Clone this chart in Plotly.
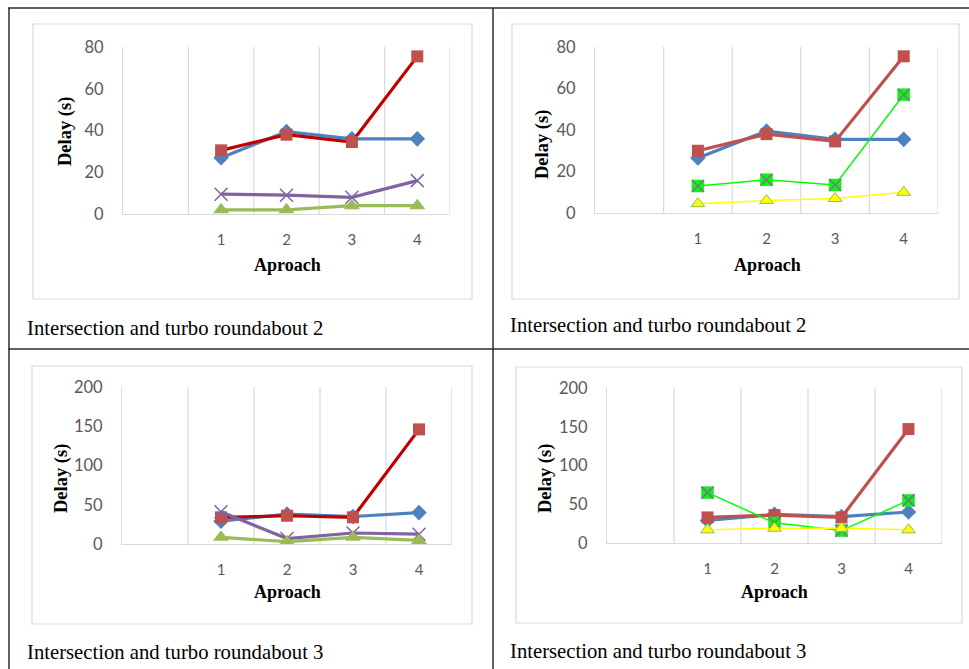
import plotly.graph_objects as go

W, H = 969, 669

approach = ["1", "2", "3", "4"]

# Chart 1 (top-left) - Intersection and turbo roundabout 2
c1_blue = [27, 39.5, 36, 36]
c1_red = [30.5, 38, 34.5, 75.5]
c1_purple = [9.5, 9, 8, 16]
c1_green = [2, 2, 4, 4]

# Chart 2 (top-right)
c2_blue = [26.5, 39.5, 35.5, 35.5]
c2_red = [30, 38, 34.5, 75.5]
c2_lime = [13, 16, 13.5, 57]
c2_yellow = [4.5, 6, 7, 10]

# Chart 3 (bottom-left) - Intersection and turbo roundabout 3
c3_blue = [29, 38, 35, 40]
c3_red = [34, 36, 34, 146]
c3_purple = [41, 7, 14, 12.5]
c3_green = [8.5, 3, 8.5, 4.5]

# Chart 4 (bottom-right)
c4_blue = [29, 37, 34, 40]
c4_red = [33, 36, 33, 147]
c4_lime = [65, 26, 16, 55]
c4_yellow = [17, 19, 19, 17]

captions = ["Intersection and turbo roundabout 2", "Intersection and turbo roundabout 2",
            "Intersection and turbo roundabout 3", "Intersection and turbo roundabout 3"]

# category slots: slot 1 is an empty category, approaches occupy slots 2..5
n_slots = len(approach) + 1
xs = [i + 2 for i in range(len(approach))]


def px(x):
    return x / W


def py(y):
    return 1 - y / H


# plot-area pixel boxes (left, right, top, bottom)
boxes = [(123, 450, 47, 214), (595, 938, 47, 213), (122, 452, 387, 544), (607, 942, 388, 543)]
yranges = [[0, 80], [0, 80], [0, 200], [0, 200]]
ydticks = [20, 20, 50, 50]
frames = [(33, 24, 472, 299), (512, 24, 959, 299), (32, 366, 472, 624), (516, 367, 962, 623)]
ytitle_pos = [(65, 132), (542, 145), (61, 479), (545, 479)]
xtitle_pos = [(287, 265), (767, 265), (287, 592), (774, 592)]
caption_pos = [(25, 328), (508, 325), (25, 652), (508, 651)]

BLUE = "#4F81BD"
RED_M = "#C0504D"
RED_DARK = "#C00000"
PURPLE = "#8064A2"
GREEN = "#9BBB59"
LIME = "#00FF00"
YELLOW = "#FFFF00"
GRID = "#D9D9D9"
TICKC = "#595959"

fig = go.Figure()


def add(n, y, color, symbol, msize, lw, mcolor=None, mline=None, mode="lines+markers"):
    ax = "" if n == 1 else str(n)
    marker = dict(symbol=symbol, size=msize, color=mcolor or color)
    if mline:
        marker["line"] = mline
    fig.add_trace(go.Scatter(x=xs, y=y, mode=mode, xaxis="x" + ax, yaxis="y" + ax,
                             line=dict(color=color, width=lw), marker=marker,
                             showlegend=False, hoverinfo="skip"))


# Chart 1
add(1, c1_blue, BLUE, "diamond", 12, 3.2)
add(1, c1_red, RED_DARK, "square", 12, 3.2, mcolor=RED_M)
add(1, c1_purple, PURPLE, "x-thin", 13, 3.2, mline=dict(color=PURPLE, width=1.5))
add(1, c1_green, GREEN, "triangle-up", 14, 3.2)
# Chart 2
add(2, c2_blue, BLUE, "diamond", 12, 3.2)
add(2, c2_red, RED_M, "square", 12, 3.2)
add(2, c2_lime, LIME, "square", 12, 1.5, mline=dict(color="#33cc33", width=0.5))
add(2, c2_lime, "#7F6F9F", "x-thin", 12, 0, mline=dict(color="#7F6F9F", width=1.5), mode="markers")
add(2, c2_yellow, YELLOW, "triangle-up", 12, 1.5, mline=dict(color=GREEN, width=1))
# Chart 3
add(3, c3_blue, BLUE, "diamond", 12, 3.2)
add(3, c3_red, RED_DARK, "square", 12, 3.2, mcolor=RED_M)
add(3, c3_purple, PURPLE, "x-thin", 13, 3.2, mline=dict(color=PURPLE, width=1.5))
add(3, c3_green, GREEN, "triangle-up", 14, 3.2)
# Chart 4
add(4, c4_blue, BLUE, "diamond", 12, 3.2)
add(4, c4_red, RED_M, "square", 12, 3.2)
add(4, c4_lime, LIME, "square", 12, 1.5, mline=dict(color="#33cc33", width=0.5))
add(4, c4_lime, "#7F6F9F", "x-thin", 12, 0, mline=dict(color="#7F6F9F", width=1.5), mode="markers")
add(4, c4_yellow, YELLOW, "triangle-up", 12, 1.5, mline=dict(color=GREEN, width=1))

layout = dict(width=W, height=H, margin=dict(l=0, r=0, t=0, b=0, pad=0, autoexpand=False),
              paper_bgcolor="white", plot_bgcolor="rgba(0,0,0,0)", showlegend=False)
shapes = []
annotations = []

for i in range(4):
    n = i + 1
    ax = "" if n == 1 else str(n)
    l, r, t, b = boxes[i]
    layout["xaxis" + ax] = dict(
        domain=[px(l), px(r)], range=[0.5, n_slots + 0.5], anchor="y" + ax, automargin=False,
        tickmode="array", tickvals=xs, ticktext=approach, showgrid=False, zeroline=False,
        showline=True, linecolor=GRID, linewidth=1.2,
        ticks="outside", ticklen=12, tickcolor="rgba(0,0,0,0)",
        tickfont=dict(family="Lato, Carlito, sans-serif", size=15, color=TICKC), fixedrange=True)
    layout["yaxis" + ax] = dict(
        domain=[py(b), py(t)], range=yranges[i], anchor="x" + ax, automargin=False,
        dtick=ydticks[i], tick0=0, showgrid=False, zeroline=False,
        showline=True, linecolor=GRID, linewidth=1.2,
        ticks="outside", ticklen=15, tickcolor="rgba(0,0,0,0)",
        tickfont=dict(family="Lato, Carlito, sans-serif", size=16.5, color=TICKC), fixedrange=True)
    # vertical category-boundary gridlines (including right edge)
    for g in range(1, n_slots + 1):
        shapes.append(dict(type="line", xref="x" + ax, yref="y" + ax + " domain",
                           x0=g + 0.5, x1=g + 0.5, y0=0, y1=1,
                           line=dict(color=GRID, width=1.2), layer="below"))
    # chart frame
    fx0, fy0, fx1, fy1 = frames[i]
    shapes.append(dict(type="rect", xref="paper", yref="paper",
                       x0=px(fx0), x1=px(fx1), y0=py(fy1), y1=py(fy0),
                       line=dict(color=GRID, width=1.2), layer="below"))
    # titles
    yx, yy = ytitle_pos[i]
    annotations.append(dict(text="Delay (s)", xref="paper", yref="paper", x=px(yx), y=py(yy),
                            textangle=-90, showarrow=False, xanchor="center", yanchor="middle",
                            font=dict(family="Liberation Serif, Times New Roman, serif", size=18.5,
                                      color="black", weight="bold")))
    xx, xy = xtitle_pos[i]
    annotations.append(dict(text="Aproach", xref="paper", yref="paper", x=px(xx), y=py(xy),
                            showarrow=False, xanchor="center", yanchor="middle",
                            font=dict(family="Liberation Serif, Times New Roman, serif", size=18,
                                      color="black", weight="bold")))
    cx, cy = caption_pos[i]
    annotations.append(dict(text=captions[i], xref="paper", yref="paper", x=px(cx), y=py(cy),
                            showarrow=False, xanchor="left", yanchor="middle",
                            font=dict(family="Liberation Serif, Times New Roman, serif", size=20.7,
                                      color="black")))

# table borders
TB = "#2b2b2b"
shapes.append(dict(type="line", xref="paper", yref="paper", x0=px(8), x1=1, y0=py(8), y1=py(8),
                   line=dict(color=TB, width=1.5)))
shapes.append(dict(type="line", xref="paper", yref="paper", x0=px(8), x1=1, y0=py(349), y1=py(349),
                   line=dict(color=TB, width=1.5)))
shapes.append(dict(type="line", xref="paper", yref="paper", x0=px(9), x1=px(9), y0=0, y1=py(8),
                   line=dict(color=TB, width=1.5)))
shapes.append(dict(type="line", xref="paper", yref="paper", x0=px(493), x1=px(493), y0=0, y1=py(8),
                   line=dict(color=TB, width=1.5)))

layout["shapes"] = shapes
layout["annotations"] = annotations
fig.update_layout(**layout)
fig.write_html("out.html")
